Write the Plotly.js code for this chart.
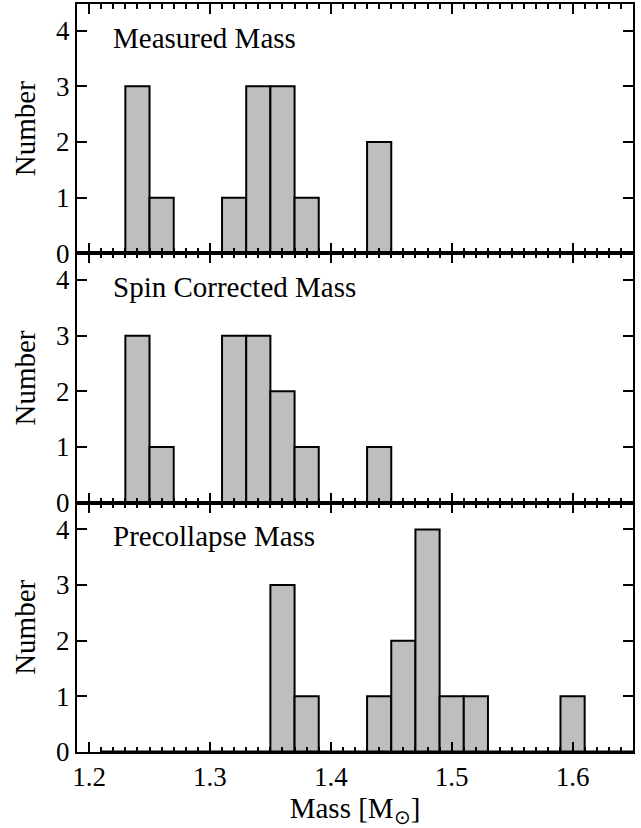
<!DOCTYPE html>
<html>
<head>
<meta charset="utf-8">
<script src="https://cdn.plot.ly/plotly-3.0.1.min.js"></script>
<style>
html,body{margin:0;padding:0;background:#fff;}
#chart{width:641px;height:828px;}
</style>
</head>
<body>
<div id="chart"></div>
<script>
// Bin centres (bin width 0.02 Msun) and counts for each panel
const binWidth = 0.02;
const measuredCenters = [1.24, 1.26, 1.32, 1.34, 1.36, 1.38, 1.44];
const measuredCounts  = [3, 1, 1, 3, 3, 1, 2];
const spinCenters = [1.24, 1.26, 1.32, 1.34, 1.36, 1.38, 1.44];
const spinCounts  = [3, 1, 3, 3, 2, 1, 1];
const precollapseCenters = [1.36, 1.38, 1.44, 1.46, 1.48, 1.50, 1.52, 1.60];
const precollapseCounts  = [3, 1, 1, 2, 4, 1, 1, 1];
const panelLabels = ["Measured Mass", "Spin Corrected Mass", "Precollapse Mass"];
const baselineX = [1.21, 1.65];
const baselineY = [0, 0];
const xTickVals = [1.2, 1.3, 1.4, 1.5, 1.6];
const yTickVals = [0, 1, 2, 3, 4];

const FONT = "Liberation Serif";
const FS = 27;
const FS_T = 29;

const sets = [
  [measuredCenters, measuredCounts],
  [spinCenters, spinCounts],
  [precollapseCenters, precollapseCounts]
];

const traces = [];
sets.forEach((s, i) => {
  const xa = i === 0 ? 'x' : 'x' + (i + 1);
  const ya = i === 0 ? 'y' : 'y' + (i + 1);
  traces.push({
    type: 'scatter', mode: 'lines', x: baselineX, y: baselineY,
    xaxis: xa, yaxis: ya, line: {color: '#000', width: 3}, hoverinfo: 'skip', showlegend: false
  });
  traces.push({
    type: 'bar', x: s[0], y: s[1], width: binWidth,
    xaxis: xa, yaxis: ya,
    marker: {color: '#bebebe', line: {color: '#000', width: 2}},
    showlegend: false
  });
});

function xaxis(anchor, labels) {
  return {
    anchor: anchor, domain: [0, 1], range: [1.19, 1.65],
    tickmode: 'array', tickvals: xTickVals, ticktext: xTickVals.map(v => v.toFixed(1)),
    ticks: 'inside', ticklen: 10, tickwidth: 2, tickcolor: '#000',
    mirror: 'allticks', showline: true, linecolor: '#000', linewidth: 2,
    showgrid: false, zeroline: false, showticklabels: labels,
    tickfont: {family: FONT, size: FS, color: '#000'},
    minor: {dtick: 0.01, tick0: 1.2, ticks: 'inside', ticklen: 5, tickwidth: 2, tickcolor: '#000', showgrid: false}
  };
}
function yaxis(anchor, domain) {
  return {
    anchor: anchor, domain: domain, range: [0, 4.48],
    tickmode: 'array', tickvals: yTickVals,
    ticks: 'inside', ticklen: 10, tickwidth: 2, tickcolor: '#000',
    mirror: 'allticks', showline: true, linecolor: '#000', linewidth: 2,
    showgrid: false, zeroline: false,
    tickfont: {family: FONT, size: FS, color: '#000'},
    title: {text: 'Number', font: {family: FONT, size: FS_T, color: '#000'}, standoff: 12}
  };
}

const x3 = xaxis('y3', true);
x3.title = {text: 'Mass [M<sub>⊙</sub>]', font: {family: FONT, size: FS_T, color: '#000'}, standoff: 0};

const layout = {
  width: 641, height: 828,
  margin: {l: 77, r: 8, t: 4, b: 76},
  paper_bgcolor: '#fff', plot_bgcolor: '#fff',
  bargap: 0, barmode: 'overlay',
  font: {family: FONT, size: FS, color: '#000'},
  xaxis: xaxis('y', false),
  xaxis2: xaxis('y2', false),
  xaxis3: x3,
  yaxis: yaxis('x', [2/3, 1]),
  yaxis2: yaxis('x2', [1/3, 2/3]),
  yaxis3: yaxis('x3', [0, 1/3]),
  annotations: panelLabels.map((t, i) => ({
    text: t, showarrow: false,
    xref: (i === 0 ? 'x' : 'x' + (i + 1)) + ' domain',
    yref: (i === 0 ? 'y' : 'y' + (i + 1)) + ' domain',
    x: 0.062, y: 0.865, xanchor: 'left', yanchor: 'middle',
    font: {family: FONT, size: FS_T, color: '#000'}
  }))
};

Plotly.newPlot('chart', traces, layout, {displayModeBar: false, staticPlot: true});
</script>
</body>
</html>
